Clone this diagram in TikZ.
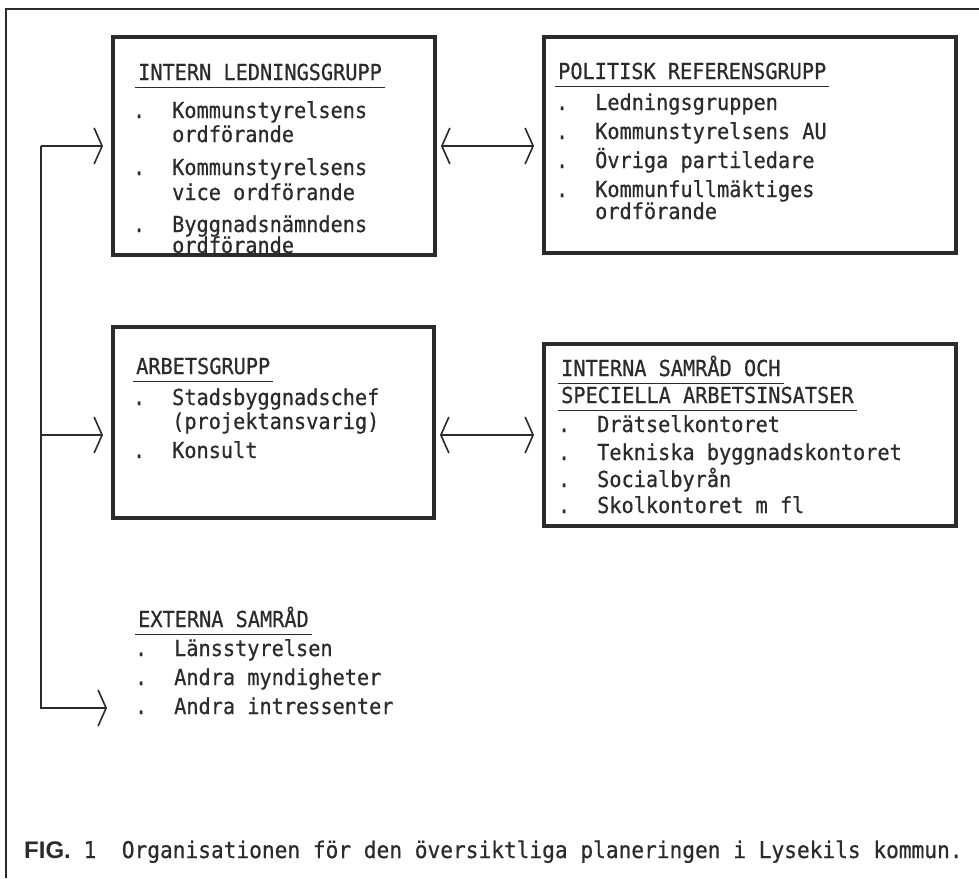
\documentclass[tikz,border=0pt]{standalone}
\usepackage{fontspec}
\newfontfamily\skriv[FakeStretch=0.92,FakeBold=0.6]{DejaVu Sans Mono}
\newfontfamily\figfont{Liberation Sans}
\usetikzlibrary{arrows.meta,calc}
\tikzset{>={Straight Barb[length=8pt,width=36pt]}}
\definecolor{blyerts}{HTML}{2B2B2B}
\newcommand{\prick}{\llap{.\hspace{27pt}}}

\begin{document}
\begin{tikzpicture}[x=1pt,y=-1pt,
        grupp/.style={draw=blyerts,line width=3.5pt,outer sep=0pt,inner sep=0pt,anchor=north west},
        rad/.style={anchor=base west,inner sep=0pt,text=blyerts,font=\skriv\fontsize{22}{24}\selectfont},
        rubrik/.style={rad,inner ysep=7pt,text depth=0pt},
        strek/.style={blyerts,line width=1.4pt},
        pil/.style={->,blyerts,line width=1.6pt}]
            \useasboundingbox (0,0) rectangle (979,878);
            \draw[blyerts,line width=1.6pt] (979,9) -- (6,9) -- (6,878);

            % the four boxes
            \node[grupp,minimum width=322pt,minimum height=218pt] (intern) at(113,37) {};
            \node[grupp,minimum width=412pt,minimum height=216pt] (politisk) at(544,37) {};
            \node[grupp,minimum width=321pt,minimum height=191pt] (arbets) at(113,327) {};
            \node[grupp,minimum width=412pt,minimum height=182pt] (samrad) at(544,344) {};

            % intern ledningsgrupp
            \node[rubrik] (intern-rub) at(138,80) {INTERN LEDNINGSGRUPP};
            \draw[strek] ([xshift=-3pt]intern-rub.south west) -- ([xshift=3pt]intern-rub.south east);
            \node[rad] (intern-a) at(172,118) {\prick Kommunstyrelsens};
            \node[rad] (intern-b) at(172,142) {ordförande};
            \node[rad] (intern-c) at(172,175) {\prick Kommunstyrelsens};
            \node[rad] (intern-d) at(172,200) {vice ordförande};
            \node[rad] (intern-e) at(172,232) {\prick Byggnadsnämndens};
            \node[rad] (intern-f) at(172,253) {ordförande};

            % politisk referensgrupp
            \node[rubrik] (pol-rub) at(558,79) {POLITISK REFERENSGRUPP};
            \draw[strek] ([xshift=-3pt]pol-rub.south west) -- ([xshift=3pt]pol-rub.south east);
            \node[rad] (pol-a) at(595,110) {\prick Ledningsgruppen};
            \node[rad] (pol-b) at(595,139) {\prick Kommunstyrelsens AU};
            \node[rad] (pol-c) at(595,168) {\prick Övriga partiledare};
            \node[rad] (pol-d) at(595,197) {\prick Kommunfullmäktiges};
            \node[rad] (pol-e) at(595,219) {ordförande};

            % arbetsgrupp
            \node[rubrik] (arb-rub) at(136,374) {ARBETSGRUPP};
            \draw[strek] ([xshift=-3pt]arb-rub.south west) -- ([xshift=3pt]arb-rub.south east);
            \node[rad] (arb-a) at(172,405) {\prick Stadsbyggnadschef};
            \node[rad] (arb-b) at(172,429) {(projektansvarig)};
            \node[rad] (arb-c) at(172,458) {\prick Konsult};

            % interna samraad
            \node[rubrik] (sam-rub1) at(561,376) {INTERNA SAMRÅD OCH};
            \draw[strek] ([xshift=-3pt]sam-rub1.south west) -- ([xshift=3pt]sam-rub1.south east);
            \node[rubrik] (sam-rub2) at(561,403) {SPECIELLA ARBETSINSATSER};
            \draw[strek] ([xshift=-3pt]sam-rub2.south west) -- ([xshift=3pt]sam-rub2.south east);
            \node[rad] (sam-a) at(597,432) {\prick Drätselkontoret};
            \node[rad] (sam-b) at(597,460) {\prick Tekniska byggnadskontoret};
            \node[rad] (sam-c) at(597,487) {\prick Socialbyrån};
            \node[rad] (sam-d) at(597,513) {\prick Skolkontoret m fl};

            % externa samraad, no box
            \node[rubrik] (ext-rub) at(138,627) {EXTERNA SAMRÅD};
            \draw[strek] ([xshift=-3pt]ext-rub.south west) -- ([xshift=3pt]ext-rub.south east);
            \node[rad] (ext-a) at(174,656) {\prick Länsstyrelsen};
            \node[rad] (ext-b) at(174,685) {\prick Andra myndigheter};
            \node[rad] (ext-c) at(174,714) {\prick Andra intressenter};

            % arrows
            \draw[pil,<->,shorten <=6pt,shorten >=10pt] (intern.east) -- (intern.east -| politisk.west);
            \draw[pil,<->,shorten <=6pt,shorten >=10pt] (samrad.west -| arbets.east) -- (samrad.west);
            \coordinate (buss) at ($(intern.west)+(-72,0)$);
            \coordinate (ext-pil) at (107,708);
            \draw[pil,shorten >=10pt] (buss) -- (intern.west);
            \draw[pil,shorten >=10pt] (buss |- samrad.west) -- (arbets.west |- samrad.west);
            \draw[pil] (buss) |- (ext-pil);

            \node[rad,font=\skriv\fontsize{23}{24}\selectfont] (fig) at(24,858) {{\figfont\bfseries\fontsize{24}{24}\selectfont FIG.}\ 1\ \ Organisationen för den översiktliga planeringen i Lysekils kommun.};
        \end{tikzpicture}
\end{document}
